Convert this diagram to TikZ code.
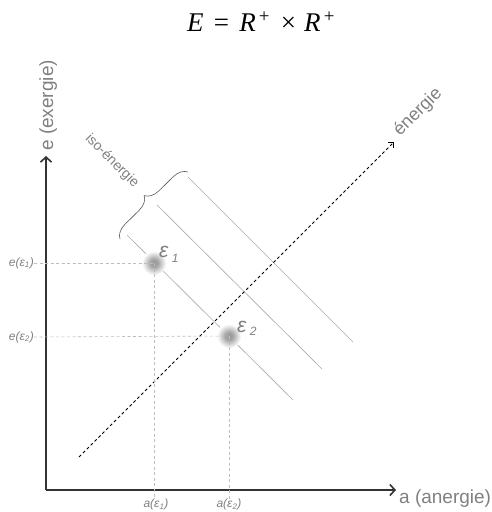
\documentclass[tikz,border=0pt]{standalone}
\usepackage{fontspec}
\setmainfont{Liberation Sans}
\newfontfamily\tnrfont{Liberation Serif}
\usetikzlibrary{arrows.meta,decorations.pathreplacing}
\definecolor{axiscol}{HTML}{333333}
\definecolor{labelgray}{HTML}{808080}
\definecolor{isocol}{HTML}{ABABAB}
\definecolor{guidecol}{HTML}{BDBDBD}
\definecolor{bracecol}{HTML}{555555}
\pgfdeclareradialshading{blurdot}{\pgfpoint{0bp}{0bp}}{color(0bp)=(black!42); color(8bp)=(black!35); color(24bp)=(white); color(50bp)=(white)}
\tikzset{
  axisline/.style={draw=axiscol, line width=1.8pt, -{Straight Barb[length=5pt,width=11pt,line width=1.6pt]}},
  axislabel/.style={text=labelgray, font=\fontsize{19}{22}\selectfont, inner sep=0pt},
  isoline/.style={draw=isocol, line width=0.65pt},
  guide/.style={draw=guidecol, line width=0.6pt, dash pattern=on 3pt off 2.5pt},
  smalllabel/.style={text=labelgray, font=\fontsize{12}{14}\selectfont\itshape, inner sep=0pt},
  epslabel/.style={text=labelgray, font=\fontsize{21}{23}\selectfont\itshape, inner sep=0pt},
  blurpoint/.style={circle, shading=blurdot, minimum size=25pt, inner sep=0pt},
  energyline/.style={draw=black, line width=0.8pt, dash pattern=on 3pt off 2.5pt, -{Straight Barb[length=4pt,width=8pt,line width=0.8pt]}},
  diaglabel/.style={text=labelgray, inner sep=0pt},
}
\begin{document}
\begin{tikzpicture}[x=1pt,y=-1pt]
\useasboundingbox (0,0) rectangle (492,512);
% title
\node[inner sep=0pt] (title) at (261,22) {\fontsize{27}{30}\selectfont\tnrfont \textit{E}\hspace{0.38em}=\hspace{0.38em}\textit{R}\textsuperscript{\,+}\hspace{0.4em}×\hspace{0.3em}\textit{R}\textsuperscript{\,+}};
% axes
\coordinate (O) at (46,490);
\coordinate (Ytop) at (46,156);
\coordinate (Xend) at (396,490);
\draw[axisline] (O) -- (Ytop);
\draw[axisline] (O) -- (Xend);
\node[axislabel, rotate=90, anchor=base west] (ylab) at (53,151) {e (exergie)};
\node[axislabel, anchor=base west] (xlab) at (399,503) {a (anergie)};
% iso-energy lines
\coordinate (L1s) at (127,235); \coordinate (L1e) at (293,400);
\coordinate (L2s) at (157,205); \coordinate (L2e) at (322,369);
\coordinate (L3s) at (188,177); \coordinate (L3e) at (353,342);
\draw[isoline] (L1s) -- (L1e);
\draw[isoline] (L2s) -- (L2e);
\draw[isoline] (L3s) -- (L3e);
% energy direction
\coordinate (Es) at (79,457);
\coordinate (Ee) at (394,142);
\draw[energyline] (Es) -- (Ee);
\node[diaglabel, rotate=45, anchor=base west, font=\fontsize{18}{20}\selectfont] (elab) at (400,137) {énergie};
% brace
\coordinate (B1) at (120,239);
\coordinate (B2) at (188,172);
\draw[draw=bracecol, line width=0.6pt, decorate, decoration={brace, amplitude=14pt}] (B1) -- (B2);
\node[diaglabel, rotate=-45, font=\fontsize{14}{16}\selectfont] (isolab) at (112,161) {iso-énergie};
% points
\node[blurpoint] (p1) at (154,263) {};
\node[blurpoint] (p2) at (229,336) {};
% labels of points
\node[smalllabel, anchor=east] (e1) at (34,263) {e(ε\textsubscript{1})};
\node[smalllabel, anchor=east] (e2) at (34,337) {e(ε\textsubscript{2})};
\node[smalllabel, anchor=north] (a1) at (156,499) {a(ε\textsubscript{1})};
\node[smalllabel, anchor=north] (a2) at (229,499) {a(ε\textsubscript{2})};
% guides
\draw[guide] (e1.east) -- (p1.center);
\draw[guide] (e2.east) -- (p2.center);
\draw[guide] (p1.center) -- (p1.center |- a1.north);
\draw[guide] (p2.center) -- (p2.center |- a2.north);
% epsilon labels
\node[epslabel, anchor=base west] (eps1) at (159,257) {ε\,\raisebox{-5pt}{\fontsize{12}{12}\selectfont 1}};
\node[epslabel, anchor=base west] (eps2) at (237,332) {ε\,\raisebox{-3pt}{\fontsize{12}{12}\selectfont 2}};
\end{tikzpicture}
\end{document}
